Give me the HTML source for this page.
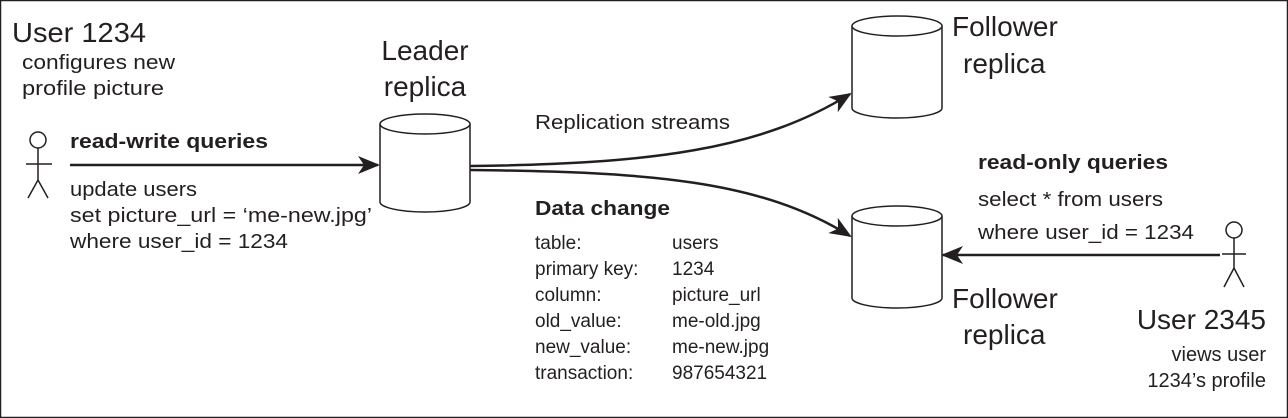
<!DOCTYPE html>
<html><head><meta charset="utf-8"><style>
html,body{margin:0;padding:0;background:#fff}
svg{display:block}
text{font-family:"Liberation Sans",sans-serif;fill:#231f20}
</style></head><body>
<svg width="1288" height="418" viewBox="0 0 1288 418" xmlns="http://www.w3.org/2000/svg">
<defs>
<marker id="ah2" markerWidth="22" markerHeight="18" refX="20" refY="9" orient="auto" markerUnits="userSpaceOnUse"><path d="M0,0 L22,9 L0,18 L6,9z" fill="#231f20"/></marker></defs>
<rect x="0.5" y="0.5" width="1287" height="417" fill="#fff" stroke="#231f20" stroke-width="1.5"/>
<g stroke="#231f20" stroke-width="1.5" fill="#fff">
<path d="M380,124 L380,202 A45,10 0 0 0 470,202 L470,124"/><ellipse cx="425" cy="124" rx="45" ry="10"/>
<path d="M852,26 L852,108 A45,10 0 0 0 942,108 L942,26"/><ellipse cx="897" cy="26" rx="45" ry="10"/>
<path d="M852,216 L852,298 A45,10 0 0 0 942,298 L942,216"/><ellipse cx="897" cy="216" rx="45" ry="10"/>
<circle cx="38" cy="140" r="8"/><path d="M38,148 L38,180 M26,164 L52,164 M28,198 L38,180 L48,198" fill="none"/>
<circle cx="1234" cy="230" r="8"/><path d="M1234,238 L1234,268 M1222,254 L1246,254 M1224,287 L1234,268 L1244,287" fill="none"/>
</g>
<g stroke="#231f20" stroke-width="2.5" fill="none">
<path d="M70,165 L378,165" marker-end="url(#ah2)"/>
<path d="M1220,255 L943,255" marker-end="url(#ah2)"/>
<path d="M470,166 C650,164 760,150 850,94" marker-end="url(#ah2)"/>
<path d="M470,170 C650,172 760,180 850,236" marker-end="url(#ah2)"/>
</g>
<text x="12" y="42" font-size="28" textLength="134" lengthAdjust="spacingAndGlyphs">User 1234</text>
<text x="22" y="69" font-size="20" textLength="153" lengthAdjust="spacingAndGlyphs">configures new</text>
<text x="22" y="95" font-size="20" textLength="142" lengthAdjust="spacingAndGlyphs">profile picture</text>
<text x="425" y="60" font-size="28" text-anchor="middle">Leader</text>
<text x="425" y="96" font-size="28" text-anchor="middle">replica</text>
<text x="70" y="148" font-size="20" font-weight="bold" textLength="198" lengthAdjust="spacingAndGlyphs">read-write queries</text>
<text x="70" y="196" font-size="20" textLength="127" lengthAdjust="spacingAndGlyphs">update users</text>
<text x="70" y="222" font-size="20" textLength="302" lengthAdjust="spacingAndGlyphs">set picture_url = ‘me-new.jpg’</text>
<text x="70" y="248" font-size="20" textLength="218" lengthAdjust="spacingAndGlyphs">where user_id = 1234</text>
<text x="535" y="129" font-size="20" textLength="195" lengthAdjust="spacingAndGlyphs">Replication streams</text>
<text x="535" y="215" font-size="20" font-weight="bold" textLength="135" lengthAdjust="spacingAndGlyphs">Data change</text>
<g font-size="19">
<text x="535" y="249">table:</text><text x="672" y="249">users</text>
<text x="535" y="275">primary key:</text><text x="672" y="275">1234</text>
<text x="535" y="301">column:</text><text x="672" y="301">picture_url</text>
<text x="535" y="327">old_value:</text><text x="672" y="327">me-old.jpg</text>
<text x="535" y="353">new_value:</text><text x="672" y="353">me-new.jpg</text>
<text x="535" y="379">transaction:</text><text x="672" y="379">987654321</text>
</g>
<text x="952" y="36" font-size="28">Follower</text>
<text x="963" y="73" font-size="28">replica</text>
<text x="952" y="308" font-size="28">Follower</text>
<text x="963" y="344" font-size="28">replica</text>
<text x="978" y="169" font-size="20" font-weight="bold" textLength="190" lengthAdjust="spacingAndGlyphs">read-only queries</text>
<text x="978" y="206" font-size="20" textLength="185" lengthAdjust="spacingAndGlyphs">select * from users</text>
<text x="978" y="239" font-size="20" textLength="216" lengthAdjust="spacingAndGlyphs">where user_id = 1234</text>
<text x="1266" y="329" font-size="28" text-anchor="end">User 2345</text>
<text x="1266" y="361" font-size="20" text-anchor="end">views user</text>
<text x="1266" y="387" font-size="20" text-anchor="end">1234’s profile</text>
</svg>
</body></html>
